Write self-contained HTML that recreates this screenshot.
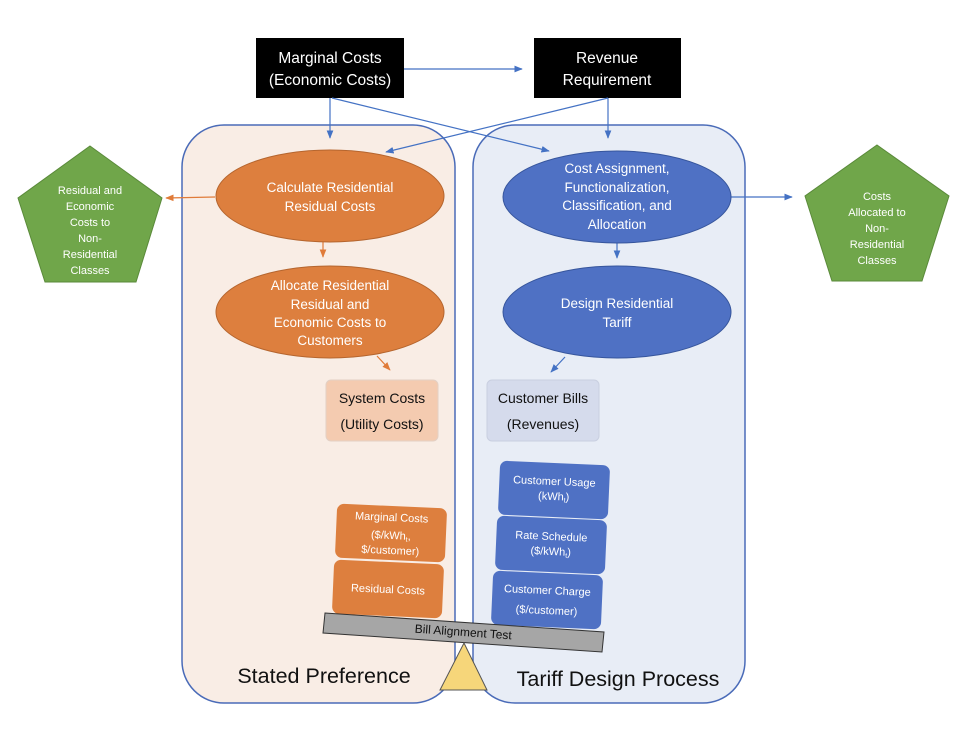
<!DOCTYPE html>
<html><head><meta charset="utf-8"><style>
html,body{margin:0;padding:0;background:#fff}
svg{display:block}
text{font-family:"Liberation Sans",sans-serif}
</style></head><body>
<svg width="970" height="738" viewBox="0 0 970 738" xmlns="http://www.w3.org/2000/svg">
<defs>
<marker id="ab" viewBox="0 0 10 10" refX="9" refY="5" markerWidth="7" markerHeight="7" orient="auto"><path d="M0,1 L10,5 L0,9 z" fill="#4472c4"/></marker>
<marker id="ao" viewBox="0 0 10 10" refX="9" refY="5" markerWidth="7" markerHeight="7" orient="auto"><path d="M0,1 L10,5 L0,9 z" fill="#e07b39"/></marker>
</defs>
<rect width="970" height="738" fill="#fff"/>
<rect x="182" y="125" width="273" height="578" rx="42" fill="#f9ede5" stroke="#4a6bb8" stroke-width="1.5"/>
<rect x="473" y="125" width="272" height="578" rx="42" fill="#e8edf6" stroke="#4a6bb8" stroke-width="1.5"/>
<rect x="256" y="38" width="148" height="60" fill="#000"/>
<text x="330" y="63" fill="#fff" font-size="15.5" text-anchor="middle">Marginal Costs</text>
<text x="330" y="85" fill="#fff" font-size="15.5" text-anchor="middle">(Economic Costs)</text>
<rect x="534" y="38" width="147" height="60" fill="#000"/>
<text x="607" y="63" fill="#fff" font-size="15.5" text-anchor="middle">Revenue</text>
<text x="607" y="85" fill="#fff" font-size="15.5" text-anchor="middle">Requirement</text>
<g stroke="#4472c4" stroke-width="1.2" fill="none" marker-end="url(#ab)">
<line x1="404" y1="69" x2="522" y2="69"/>
<line x1="330" y1="98" x2="330" y2="138"/>
<line x1="332" y1="98" x2="549" y2="151"/>
<line x1="608" y1="98" x2="386" y2="152"/>
<line x1="608" y1="98" x2="608" y2="138"/>
<line x1="731" y1="197" x2="792" y2="197"/>
<line x1="617" y1="243" x2="617" y2="258"/>
<line x1="565" y1="357" x2="551" y2="372"/>
</g>
<g stroke="#e07b39" stroke-width="1.2" fill="none" marker-end="url(#ao)">
<line x1="215" y1="197" x2="166" y2="198"/>
<line x1="323" y1="242" x2="323" y2="257"/>
<line x1="377" y1="356" x2="390" y2="370"/>
</g>
<ellipse cx="330" cy="196" rx="114" ry="46" fill="#dd7f3e" stroke="#b5652e" stroke-width="1"/>
<text x="330" y="192" fill="#fff" font-size="13.5" text-anchor="middle">Calculate Residential</text>
<text x="330" y="211" fill="#fff" font-size="13.5" text-anchor="middle">Residual Costs</text>
<ellipse cx="330" cy="312" rx="114" ry="46" fill="#dd7f3e" stroke="#b5652e" stroke-width="1"/>
<text x="330" y="290" fill="#fff" font-size="13.5" text-anchor="middle">Allocate Residential</text>
<text x="330" y="309" fill="#fff" font-size="13.5" text-anchor="middle">Residual and</text>
<text x="330" y="327" fill="#fff" font-size="13.5" text-anchor="middle">Economic Costs to</text>
<text x="330" y="345" fill="#fff" font-size="13.5" text-anchor="middle">Customers</text>
<ellipse cx="617" cy="197" rx="114" ry="46" fill="#4f71c4" stroke="#36559c" stroke-width="1"/>
<text x="617" y="173" fill="#fff" font-size="13.5" text-anchor="middle">Cost Assignment,</text>
<text x="617" y="192" fill="#fff" font-size="13.5" text-anchor="middle">Functionalization,</text>
<text x="617" y="210" fill="#fff" font-size="13.5" text-anchor="middle">Classification, and</text>
<text x="617" y="229" fill="#fff" font-size="13.5" text-anchor="middle">Allocation</text>
<ellipse cx="617" cy="312" rx="114" ry="46" fill="#4f71c4" stroke="#36559c" stroke-width="1"/>
<text x="617" y="308" fill="#fff" font-size="13.5" text-anchor="middle">Design Residential</text>
<text x="617" y="327" fill="#fff" font-size="13.5" text-anchor="middle">Tariff</text>
<polygon points="90,146 162,198 136,282 45,282 18,198" fill="#70a64a" stroke="#5a8a3a"/>
<g fill="#fff" font-size="11" text-anchor="middle">
<text x="90" y="194">Residual and</text><text x="90" y="210">Economic</text><text x="90" y="226">Costs to</text><text x="90" y="242">Non-</text><text x="90" y="258">Residential</text><text x="90" y="274">Classes</text>
</g>
<polygon points="877,145 949,196 922,281 832,281 805,196" fill="#70a64a" stroke="#5a8a3a"/>
<g fill="#fff" font-size="11" text-anchor="middle">
<text x="877" y="200">Costs</text><text x="877" y="216">Allocated to</text><text x="877" y="232">Non-</text><text x="877" y="248">Residential</text><text x="877" y="264">Classes</text>
</g>
<rect x="326" y="380" width="112" height="61" rx="5" fill="#f4cbb0" stroke="#e3d0c4"/>
<text x="382" y="403" font-size="14" text-anchor="middle" fill="#111">System Costs</text>
<text x="382" y="429" font-size="14" text-anchor="middle" fill="#111">(Utility Costs)</text>
<rect x="487" y="380" width="112" height="61" rx="5" fill="#d5dbec" stroke="#c9cfe0"/>
<text x="543" y="403" font-size="14" text-anchor="middle" fill="#111">Customer Bills</text>
<text x="543" y="429" font-size="14" text-anchor="middle" fill="#111">(Revenues)</text>
<g transform="rotate(2.5 391 533)"><rect x="336" y="506" width="110" height="54" rx="7" fill="#dd7f3e"/>
<text x="391" y="521" fill="#fff" font-size="11" text-anchor="middle">Marginal Costs</text>
<text x="391" y="539" fill="#fff" font-size="11" text-anchor="middle">($/kWh<tspan font-size="7" dy="2">t</tspan><tspan dy="-2">,</tspan></text>
<text x="391" y="554" fill="#fff" font-size="11" text-anchor="middle">$/customer)</text></g>
<g transform="rotate(2.5 388 589)"><rect x="333" y="562" width="110" height="54" rx="7" fill="#dd7f3e"/>
<text x="388" y="593" fill="#fff" font-size="11" text-anchor="middle">Residual Costs</text></g>
<g transform="rotate(2.5 554 490)"><rect x="499" y="463" width="110" height="54" rx="7" fill="#4f71c4"/>
<text x="554" y="485" fill="#fff" font-size="11" text-anchor="middle">Customer Usage</text>
<text x="554" y="500" fill="#fff" font-size="11" text-anchor="middle">(kWh<tspan font-size="7" dy="2">t</tspan><tspan dy="-2">)</tspan></text></g>
<g transform="rotate(2.5 551 545)"><rect x="496" y="518" width="110" height="54" rx="7" fill="#4f71c4"/>
<text x="551" y="540" fill="#fff" font-size="11" text-anchor="middle">Rate Schedule</text>
<text x="551" y="555" fill="#fff" font-size="11" text-anchor="middle">($/kWh<tspan font-size="7" dy="2">t</tspan><tspan dy="-2">)</tspan></text></g>
<g transform="rotate(2.5 547 600)"><rect x="492" y="573" width="110" height="54" rx="7" fill="#4f71c4"/>
<text x="547" y="594" fill="#fff" font-size="11" text-anchor="middle">Customer Charge</text>
<text x="547" y="614" fill="#fff" font-size="11" text-anchor="middle">($/customer)</text></g>
<polygon points="325,613 604,632 602,652 323,633" fill="#a6a6a6" stroke="#333" stroke-width="1"/>
<text transform="translate(463,636) rotate(4)" font-size="12" text-anchor="middle" fill="#111">Bill Alignment Test</text>
<polygon points="464,643 487,690 440,690" fill="#f6d67a" stroke="#555" stroke-width="1"/>
<text x="324" y="683" font-size="21.5" text-anchor="middle" fill="#111">Stated Preference</text>
<text x="618" y="686" font-size="21.5" text-anchor="middle" fill="#111">Tariff Design Process</text>
</svg>
</body></html>
